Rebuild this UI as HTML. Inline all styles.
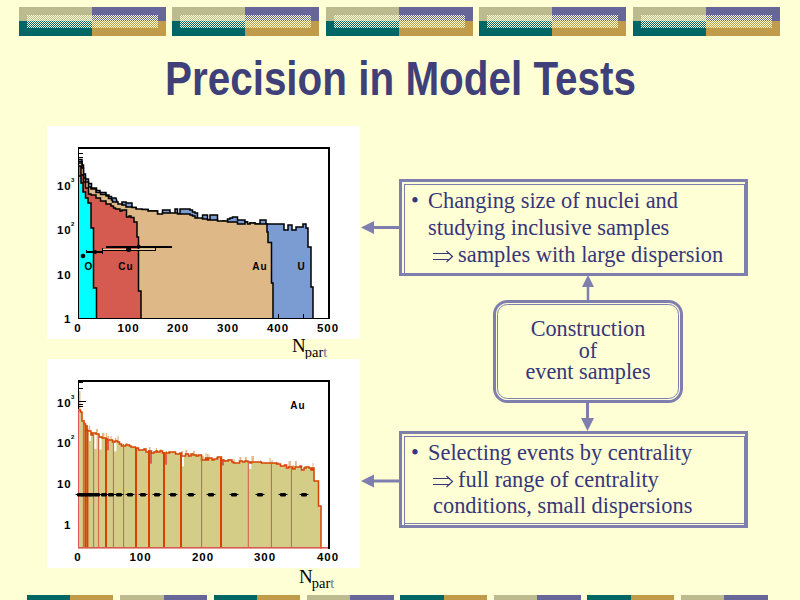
<!DOCTYPE html>
<html><head><meta charset="utf-8"><style>
html,body{margin:0;padding:0;}
body{width:800px;height:600px;background:#FFFFD5;position:relative;overflow:hidden;}
svg{position:absolute;left:0;top:0;}
.t{position:absolute;white-space:nowrap;font-family:"Liberation Serif",serif;font-size:22.4px;color:#36367A;line-height:27px;}
#title{position:absolute;left:165px;top:50px;transform:scaleX(0.825);white-space:nowrap;font-family:"Liberation Sans",sans-serif;font-weight:bold;font-size:49px;color:#3F3F7A;transform-origin:0 0;}
.np{position:absolute;white-space:nowrap;font-family:"Liberation Serif",serif;font-size:19px;color:#000;line-height:20px;}
.np sub{font-size:14.5px;vertical-align:-5px;line-height:0;margin-left:-1px;} .np i{font-style:normal;color:#6F6FA8;}
</style></head><body>
<svg width="800" height="600" viewBox="0 0 800 600" shape-rendering="crispEdges">
<defs><pattern id="chk" width="2" height="2" patternUnits="userSpaceOnUse"><rect x="0" y="0" width="1" height="1" fill="#FFFFD5"/><rect x="1" y="1" width="1" height="1" fill="#FFFFD5"/></pattern></defs>
<rect x="19" y="7" width="73" height="14" fill="#BBBB8F"/>
<rect x="19" y="21" width="73" height="15" fill="#006666"/>
<rect x="92" y="7" width="74" height="14" fill="#666699"/>
<rect x="92" y="21" width="74" height="15" fill="#C09C4A"/>
<rect x="27" y="15" width="131" height="13" fill="url(#chk)"/>
<rect x="172" y="7" width="73" height="14" fill="#BBBB8F"/>
<rect x="172" y="21" width="73" height="15" fill="#006666"/>
<rect x="245" y="7" width="74" height="14" fill="#666699"/>
<rect x="245" y="21" width="74" height="15" fill="#C09C4A"/>
<rect x="180" y="15" width="131" height="13" fill="url(#chk)"/>
<rect x="326" y="7" width="73" height="14" fill="#BBBB8F"/>
<rect x="326" y="21" width="73" height="15" fill="#006666"/>
<rect x="399" y="7" width="74" height="14" fill="#666699"/>
<rect x="399" y="21" width="74" height="15" fill="#C09C4A"/>
<rect x="334" y="15" width="131" height="13" fill="url(#chk)"/>
<rect x="479" y="7" width="73" height="14" fill="#BBBB8F"/>
<rect x="479" y="21" width="73" height="15" fill="#006666"/>
<rect x="552" y="7" width="74" height="14" fill="#666699"/>
<rect x="552" y="21" width="74" height="15" fill="#C09C4A"/>
<rect x="487" y="15" width="131" height="13" fill="url(#chk)"/>
<rect x="633" y="7" width="73" height="14" fill="#BBBB8F"/>
<rect x="633" y="21" width="73" height="15" fill="#006666"/>
<rect x="706" y="7" width="74" height="14" fill="#666699"/>
<rect x="706" y="21" width="74" height="15" fill="#C09C4A"/>
<rect x="641" y="15" width="131" height="13" fill="url(#chk)"/>
<rect x="27" y="595" width="43" height="5" fill="#006666"/>
<rect x="70" y="595" width="43" height="5" fill="#C09C4A"/>
<rect x="120" y="595" width="44" height="5" fill="#BBBB8F"/>
<rect x="164" y="595" width="43" height="5" fill="#666699"/>
<rect x="214" y="595" width="43" height="5" fill="#006666"/>
<rect x="257" y="595" width="43" height="5" fill="#C09C4A"/>
<rect x="307" y="595" width="43" height="5" fill="#BBBB8F"/>
<rect x="350" y="595" width="44" height="5" fill="#666699"/>
<rect x="400" y="595" width="44" height="5" fill="#006666"/>
<rect x="444" y="595" width="43" height="5" fill="#C09C4A"/>
<rect x="494" y="595" width="43" height="5" fill="#BBBB8F"/>
<rect x="537" y="595" width="44" height="5" fill="#666699"/>
<rect x="587" y="595" width="44" height="5" fill="#006666"/>
<rect x="631" y="595" width="43" height="5" fill="#C09C4A"/>
<rect x="681" y="595" width="43" height="5" fill="#BBBB8F"/>
<rect x="724" y="595" width="44" height="5" fill="#666699"/>
</svg>
<div id="title">Precision in Model Tests</div>
<svg width="800" height="600" viewBox="0 0 800 600">
<rect x="47" y="126" width="313" height="213" fill="#fff"/>
<path d="M79,318L79,159.5L82,159.5L82,165.0L83.5,165.0L83.5,174.0L85.5,174.0L85.5,179.0L88.5,179.0L88.5,183.5L91.5,183.5L91.5,188.0L96.5,188.0L96.5,190.5L100,190.5L100,192.5L106,192.5L106,195.0L109,195.0L109,196.5L111.5,196.5L111.5,198.0L116,198.0L118,205L122,205L122,202L126,202L126,203L132,203L132,207.5L136,207.5L136,210L142,210L142,209.5L148,209.5L148,211L150,211L150,211L157.5,211L157.5,215L162.5,215L162.5,210L170.0,210L170.0,214L175.0,214L175.0,209L177.5,209L177.5,214L180.0,214L180.0,209L185.0,209L185.0,209L190.0,209L190.0,210L192.5,210L192.5,212L195.0,212L195.0,213L197.5,213L197.5,219L202.5,219L202.5,215L207.5,215L207.5,220L210.0,220L210.0,215L217.5,215L217.5,222L222.5,222L222.5,221L225.0,221L225.0,223L227.5,223L227.5,219L230.0,219L230.0,218L232.5,218L232.5,217L237.5,217L237.5,220L245.0,220L245.0,222L247.5,222L247.5,226L250.0,226L250.0,223L255.0,223L255.0,224L260.0,224L260.0,220L262.5,220L262.5,220L266,220L266,224L284,224L284,230L288,230L288,225L292,225L292,230L296,230L296,227L303,227L303,224L306,224L306,228L308,228L308,247L311,247L311,287L313,287L313,318L313,318Z" fill="#7B9BD3"/>
<path d="M79,159.5L82,159.5L82,165.0L83.5,165.0L83.5,174.0L85.5,174.0L85.5,179.0L88.5,179.0L88.5,183.5L91.5,183.5L91.5,188.0L96.5,188.0L96.5,190.5L100,190.5L100,192.5L106,192.5L106,195.0L109,195.0L109,196.5L111.5,196.5L111.5,198.0L116,198.0L118,205L122,205L122,202L126,202L126,203L132,203L132,207.5L136,207.5L136,210L142,210L142,209.5L148,209.5L148,211L150,211L150,211L157.5,211L157.5,215L162.5,215L162.5,210L170.0,210L170.0,214L175.0,214L175.0,209L177.5,209L177.5,214L180.0,214L180.0,209L185.0,209L185.0,209L190.0,209L190.0,210L192.5,210L192.5,212L195.0,212L195.0,213L197.5,213L197.5,219L202.5,219L202.5,215L207.5,215L207.5,220L210.0,220L210.0,215L217.5,215L217.5,222L222.5,222L222.5,221L225.0,221L225.0,223L227.5,223L227.5,219L230.0,219L230.0,218L232.5,218L232.5,217L237.5,217L237.5,220L245.0,220L245.0,222L247.5,222L247.5,226L250.0,226L250.0,223L255.0,223L255.0,224L260.0,224L260.0,220L262.5,220L262.5,220L266,220L266,224L284,224L284,230L288,230L288,225L292,225L292,230L296,230L296,227L303,227L303,224L306,224L306,228L308,228L308,247L311,247L311,287L313,287L313,318" fill="none" stroke="#000" stroke-width="1.5" stroke-linejoin="miter" stroke-linecap="square"/>
<path d="M79,318L79,163L82,163L82,168L83.5,168L83.5,178L85.5,178L85.5,182L88.5,182L88.5,187L91,187L91,189L96,189L96,192.5L100.5,192.5L100.5,194.5L106,194.5L106,196L108.5,196L108.5,198.5L111.5,198.5L111.5,200L112.5,200L112.5,202L118,202L118,204L122,204L122,205L126,205L126,207L132,207L132,207.5L136,207.5L136,209L142,209L142,209.5L148,209.5L148,211L150,211L150,211L157.5,211L157.5,214L162.5,214L162.5,213L170.0,213L170.0,213L175.0,213L175.0,213L177.5,213L177.5,214L180.0,214L180.0,214L185.0,214L185.0,214L190.0,214L190.0,215L192.5,215L192.5,216L195.0,216L195.0,218L197.5,218L197.5,218L202.5,218L202.5,219L207.5,219L207.5,220L210.0,220L210.0,220L217.5,220L217.5,221L222.5,221L222.5,221L225.0,221L225.0,221L227.5,221L227.5,222L230.0,222L230.0,222L232.5,222L232.5,222L237.5,222L237.5,224L245.0,224L245.0,222L247.5,222L247.5,224L250.0,224L250.0,223L255.0,223L255.0,224L260.0,224L260.0,224L262.5,224L262.5,224L266,224L267,224L267,232L268,232L268,242.5L271.5,242.5L271.5,283L273,283L273,318L273,318Z" fill="#DEB887"/>
<path d="M79,163L82,163L82,168L83.5,168L83.5,178L85.5,178L85.5,182L88.5,182L88.5,187L91,187L91,189L96,189L96,192.5L100.5,192.5L100.5,194.5L106,194.5L106,196L108.5,196L108.5,198.5L111.5,198.5L111.5,200L112.5,200L112.5,202L118,202L118,204L122,204L122,205L126,205L126,207L132,207L132,207.5L136,207.5L136,209L142,209L142,209.5L148,209.5L148,211L150,211L150,211L157.5,211L157.5,214L162.5,214L162.5,213L170.0,213L170.0,213L175.0,213L175.0,213L177.5,213L177.5,214L180.0,214L180.0,214L185.0,214L185.0,214L190.0,214L190.0,215L192.5,215L192.5,216L195.0,216L195.0,218L197.5,218L197.5,218L202.5,218L202.5,219L207.5,219L207.5,220L210.0,220L210.0,220L217.5,220L217.5,221L222.5,221L222.5,221L225.0,221L225.0,221L227.5,221L227.5,222L230.0,222L230.0,222L232.5,222L232.5,222L237.5,222L237.5,224L245.0,224L245.0,222L247.5,222L247.5,224L250.0,224L250.0,223L255.0,223L255.0,224L260.0,224L260.0,224L262.5,224L262.5,224L266,224L267,224L267,232L268,232L268,242.5L271.5,242.5L271.5,283L273,283L273,318" fill="none" stroke="#000" stroke-width="1.5" stroke-linejoin="miter" stroke-linecap="square"/>
<path d="M79,318L79,166L81,166L81,175L83.5,175L83.5,182L85.5,182L85.5,188L88.5,188L88.5,194L91,194L91,195L96,195L96,198L100.5,198L100.5,201L106,201L106,204L111,204L111,206L113.5,206L113.5,208L115.5,208L115.5,209L120,209L120,211L122,211L122,210L126.5,210L126.5,217L129,217L129,216L131,216L131,217.5L134,217.5L134,222L137,222L137,237L138.5,237L138.5,291L141,291L141,318L141,318Z" fill="#D55A50"/>
<path d="M79,166L81,166L81,175L83.5,175L83.5,182L85.5,182L85.5,188L88.5,188L88.5,194L91,194L91,195L96,195L96,198L100.5,198L100.5,201L106,201L106,204L111,204L111,206L113.5,206L113.5,208L115.5,208L115.5,209L120,209L120,211L122,211L122,210L126.5,210L126.5,217L129,217L129,216L131,216L131,217.5L134,217.5L134,222L137,222L137,237L138.5,237L138.5,291L141,291L141,318" fill="none" stroke="#000" stroke-width="1.5" stroke-linejoin="miter" stroke-linecap="square"/>
<path d="M79,318L79,176L81,176L81,183L83,183L83,192L85.5,192L85.5,198L88,198L88,203L91,203L91,228L93.5,228L93.5,288L96.5,288L96.5,318L96.5,318Z" fill="#00FFFF"/>
<path d="M79,176L81,176L81,183L83,183L83,192L85.5,192L85.5,198L88,198L88,203L91,203L91,228L93.5,228L93.5,288L96.5,288L96.5,318" fill="none" stroke="#000" stroke-width="1.5" stroke-linejoin="miter" stroke-linecap="square"/>
<rect x="78" y="147" width="252" height="2" fill="#000"/>
<rect x="328" y="147" width="2" height="172" fill="#000"/>
<rect x="78" y="147" width="1" height="172" fill="#000"/>
<rect x="78" y="318" width="252" height="1" fill="#000"/>
<rect x="79" y="153" width="4" height="1" fill="#000"/>
<rect x="79" y="157" width="4" height="1" fill="#000"/>
<rect x="79" y="161" width="4" height="1" fill="#000"/>
<rect x="278" y="314" width="1" height="4" fill="#000"/>
<rect x="303" y="314" width="1" height="4" fill="#000"/>
<rect x="106" y="246" width="66" height="2" fill="#000"/>
<rect x="102" y="249" width="54" height="1" fill="#E8D2A8"/>
<rect x="102" y="250" width="54" height="1" fill="#000"/>
<rect x="102" y="248" width="1" height="3" fill="#000"/>
<rect x="155" y="248" width="1" height="3" fill="#000"/>
<rect x="86" y="251" width="17" height="2" fill="#000"/>
<rect x="86" y="250" width="1" height="3" fill="#000"/>
<rect x="102" y="250" width="1" height="4" fill="#000"/>
<circle cx="128.6" cy="249.5" r="2.5" fill="#000" shape-rendering="auto"/>
<circle cx="138.6" cy="246.5" r="2" fill="#000" shape-rendering="auto"/>
<circle cx="95" cy="252" r="2" fill="#000" shape-rendering="auto"/>
<circle cx="83" cy="256" r="2.3" fill="#000" shape-rendering="auto"/>
<text x="88.5" y="270" font-family="Liberation Sans" font-weight="bold" fill="#000" font-size="10" text-anchor="middle">O</text>
<text x="126" y="270" font-family="Liberation Sans" font-weight="bold" fill="#000" font-size="10" text-anchor="middle" letter-spacing="1">Cu</text>
<text x="260" y="270" font-family="Liberation Sans" font-weight="bold" fill="#000" font-size="10" text-anchor="middle" letter-spacing="1">Au</text>
<text x="301" y="270" font-family="Liberation Sans" font-weight="bold" fill="#000" font-size="10" text-anchor="middle">U</text>
<text transform="translate(78,332) scale(1.15,1)" x="0" y="0" font-family="Liberation Sans" font-weight="bold" fill="#000" font-size="10" text-anchor="middle" letter-spacing="0.8">0</text>
<text transform="translate(128.5,332) scale(1.15,1)" x="0" y="0" font-family="Liberation Sans" font-weight="bold" fill="#000" font-size="10" text-anchor="middle" letter-spacing="0.8">100</text>
<text transform="translate(178,332) scale(1.15,1)" x="0" y="0" font-family="Liberation Sans" font-weight="bold" fill="#000" font-size="10" text-anchor="middle" letter-spacing="0.8">200</text>
<text transform="translate(228,332) scale(1.15,1)" x="0" y="0" font-family="Liberation Sans" font-weight="bold" fill="#000" font-size="10" text-anchor="middle" letter-spacing="0.8">300</text>
<text transform="translate(278,332) scale(1.15,1)" x="0" y="0" font-family="Liberation Sans" font-weight="bold" fill="#000" font-size="10" text-anchor="middle" letter-spacing="0.8">400</text>
<text transform="translate(328,332) scale(1.15,1)" x="0" y="0" font-family="Liberation Sans" font-weight="bold" fill="#000" font-size="10" text-anchor="middle" letter-spacing="0.8">500</text>
<text transform="translate(57,190) scale(1.15,1)" x="0" y="0" font-family="Liberation Sans" font-weight="bold" fill="#000" font-size="10" text-anchor="start" letter-spacing="0.8">10</text>
<text x="71" y="182" font-family="Liberation Sans" font-weight="bold" fill="#000" font-size="6">3</text>
<text transform="translate(57,234) scale(1.15,1)" x="0" y="0" font-family="Liberation Sans" font-weight="bold" fill="#000" font-size="10" text-anchor="start" letter-spacing="0.8">10</text>
<text x="71" y="226" font-family="Liberation Sans" font-weight="bold" fill="#000" font-size="6">2</text>
<text transform="translate(57,279) scale(1.15,1)" x="0" y="0" font-family="Liberation Sans" font-weight="bold" fill="#000" font-size="10" text-anchor="start" letter-spacing="0.8">10</text>
<text transform="translate(64,323) scale(1.15,1)" x="0" y="0" font-family="Liberation Sans" font-weight="bold" fill="#000" font-size="10" text-anchor="start" letter-spacing="0.8">1</text>
</svg>
<div class="np" style="left:292px;top:336px">N<sub>par<i>t</i></sub></div>
<svg width="800" height="600" viewBox="0 0 800 600">
<rect x="47" y="359" width="313" height="209" fill="#fff"/>
<rect x="78" y="380" width="252" height="2" fill="#000"/>
<rect x="328" y="380" width="2" height="169" fill="#000"/>
<rect x="78" y="380" width="1" height="30" fill="#000"/>
<rect x="79" y="391" width="1.5" height="18" fill="#DEB887"/>
<rect x="84.0" y="420" width="1.0" height="5" fill="#DEB887"/>
<rect x="87.0" y="425" width="1.2" height="7" fill="#DEB887"/>
<rect x="89.0" y="426" width="1.2" height="6" fill="#DEB887"/>
<rect x="91.0" y="432" width="1.0" height="4" fill="#DEB887"/>
<rect x="96.0" y="429" width="1.8" height="6" fill="#DEB887"/>
<rect x="102.0" y="433" width="2.4" height="6" fill="#DEB887"/>
<rect x="106.0" y="433" width="1.0" height="7" fill="#DEB887"/>
<rect x="107.5" y="436" width="1.8" height="5" fill="#DEB887"/>
<rect x="110.5" y="436" width="1.2" height="5" fill="#DEB887"/>
<rect x="112.5" y="440" width="1.5" height="3" fill="#DEB887"/>
<rect x="115.0" y="438" width="1.5" height="4" fill="#DEB887"/>
<rect x="117.5" y="436" width="1.2" height="7" fill="#DEB887"/>
<rect x="121.5" y="444" width="2.4" height="3" fill="#DEB887"/>
<rect x="125.5" y="443" width="2.4" height="3" fill="#DEB887"/>
<rect x="144.0" y="448" width="1.2" height="2" fill="#DEB887"/>
<rect x="149.0" y="447" width="1.5" height="5" fill="#DEB887"/>
<rect x="156.0" y="448" width="1.0" height="4" fill="#DEB887"/>
<rect x="160.0" y="449" width="1.5" height="3" fill="#DEB887"/>
<rect x="165.5" y="451" width="1.5" height="3" fill="#DEB887"/>
<rect x="168.0" y="451" width="1.0" height="3" fill="#DEB887"/>
<rect x="175.5" y="453" width="1.5" height="2" fill="#DEB887"/>
<rect x="181.5" y="451" width="1.5" height="6" fill="#DEB887"/>
<rect x="185.5" y="450" width="1.8" height="5" fill="#DEB887"/>
<rect x="193.0" y="451" width="1.8" height="5" fill="#DEB887"/>
<rect x="196.0" y="454" width="1.5" height="3" fill="#DEB887"/>
<rect x="201.5" y="456" width="2.4" height="5" fill="#DEB887"/>
<rect x="205.5" y="453" width="1.0" height="6" fill="#DEB887"/>
<rect x="207.0" y="454" width="1.0" height="7" fill="#DEB887"/>
<rect x="208.5" y="454" width="1.0" height="5" fill="#DEB887"/>
<rect x="212.0" y="459" width="1.2" height="2" fill="#DEB887"/>
<rect x="216.0" y="457" width="1.0" height="3" fill="#DEB887"/>
<rect x="224.0" y="460" width="2.4" height="2" fill="#DEB887"/>
<rect x="228.0" y="459" width="2.4" height="2" fill="#DEB887"/>
<rect x="233.5" y="459" width="1.2" height="5" fill="#DEB887"/>
<rect x="239.5" y="457" width="1.8" height="5" fill="#DEB887"/>
<rect x="245.0" y="457" width="1.8" height="5" fill="#DEB887"/>
<rect x="251.5" y="456" width="2.4" height="7" fill="#DEB887"/>
<rect x="260.0" y="460" width="1.0" height="3" fill="#DEB887"/>
<rect x="269.5" y="458" width="1.2" height="6" fill="#DEB887"/>
<rect x="271.5" y="460" width="1.2" height="4" fill="#DEB887"/>
<rect x="276.5" y="462" width="2.4" height="3" fill="#DEB887"/>
<rect x="288.5" y="461" width="2.4" height="7" fill="#DEB887"/>
<rect x="292.5" y="465" width="1.5" height="5" fill="#DEB887"/>
<rect x="295.0" y="461" width="1.8" height="7" fill="#DEB887"/>
<rect x="304.0" y="466" width="1.2" height="3" fill="#DEB887"/>
<rect x="312.5" y="463" width="1.0" height="6" fill="#DEB887"/>
<path d="M79,548L79,410L80.5,410L80.5,412L82.0,412L82.0,421L84.0,421L84.0,424L85.5,424L85.5,426L87.0,426L87.0,431L89.0,431L89.0,431L91.0,431L91.0,435L92.5,435L92.5,433L94.0,433L94.0,433L96.0,433L96.0,434L99.0,434L99.0,437L102.0,437L102.0,438L106.0,438L106.0,439L107.5,439L107.5,440L110.5,440L110.5,440L112.5,440L112.5,442L115.0,442L115.0,441L117.5,441L117.5,442L119.5,442L119.5,444L121.5,444L121.5,446L125.5,446L125.5,445L129.5,445L129.5,446L131.0,446L131.0,447L133.5,447L133.5,447L135.5,447L135.5,448L138.5,448L138.5,450L140.0,450L140.0,450L144.0,450L144.0,449L146.0,449L146.0,452L149.0,452L149.0,451L151.5,451L151.5,453L154.0,453L154.0,452L156.0,452L156.0,451L157.5,451L157.5,452L160.0,452L160.0,451L162.5,451L162.5,453L165.5,453L165.5,453L168.0,453L168.0,453L169.5,453L169.5,452L171.5,452L171.5,452L175.5,452L175.5,454L178.0,454L178.0,454L180.0,454L180.0,453L181.5,453L181.5,456L184.0,456L184.0,456L185.5,456L185.5,454L188.5,454L188.5,456L191.0,456L191.0,454L193.0,454L193.0,455L196.0,455L196.0,456L198.5,456L198.5,455L201.5,455L201.5,460L205.5,460L205.5,458L207.0,458L207.0,460L208.5,460L208.5,458L210.0,458L210.0,458L212.0,458L212.0,460L214.0,460L214.0,459L216.0,459L216.0,459L217.5,459L217.5,457L221.5,457L221.5,460L224.0,460L224.0,461L228.0,461L228.0,460L232.0,460L232.0,462L233.5,462L233.5,463L235.5,463L235.5,463L239.5,463L239.5,461L242.5,461L242.5,462L245.0,462L245.0,461L248.0,461L248.0,462L250.0,462L250.0,463L251.5,463L251.5,462L255.5,462L255.5,462L258.5,462L258.5,462L260.0,462L260.0,462L261.5,462L261.5,463L265.5,463L265.5,463L269.5,463L269.5,463L271.5,463L271.5,463L273.5,463L273.5,463L276.5,463L276.5,464L280.5,464L280.5,466L284.5,466L284.5,465L286.5,465L286.5,468L288.5,468L288.5,467L292.5,467L292.5,469L295.0,469L295.0,467L298.0,467L298.0,467L300.0,467L300.0,466L301.5,466L301.5,470L304.0,470L304.0,468L306.0,468L306.0,467L309.0,467L309.0,468L311.0,468L311.0,470L312.5,470L312.5,468L314,468L314,470L314,481L318.5,481L318.5,506L321,506L321,548L321,548Z" fill="#D3CD88"/>
<rect x="88.8" y="430.9" width="2.2" height="10" fill="#fff"/>
<rect x="94.3" y="434.9" width="2.2" height="14" fill="#fff"/>
<rect x="99.4" y="437.5" width="2.2" height="12" fill="#fff"/>
<rect x="106.8" y="440.3" width="2.2" height="10" fill="#D86050"/>
<rect x="114.2" y="442.4" width="2.2" height="9" fill="#fff"/>
<rect x="149.8" y="451.7" width="2.2" height="12" fill="#D86050"/>
<rect x="164.8" y="453.7" width="2.2" height="11" fill="#D86050"/>
<rect x="181.8" y="455.3" width="2.2" height="11" fill="#fff"/>
<rect x="221.8" y="459.5" width="2.2" height="6" fill="#D86050"/>
<rect x="249.1" y="463.0" width="2.2" height="6" fill="#fff"/>
<path d="M79,410L80.5,410L80.5,412L82.0,412L82.0,421L84.0,421L84.0,424L85.5,424L85.5,426L87.0,426L87.0,431L89.0,431L89.0,431L91.0,431L91.0,435L92.5,435L92.5,433L94.0,433L94.0,433L96.0,433L96.0,434L99.0,434L99.0,437L102.0,437L102.0,438L106.0,438L106.0,439L107.5,439L107.5,440L110.5,440L110.5,440L112.5,440L112.5,442L115.0,442L115.0,441L117.5,441L117.5,442L119.5,442L119.5,444L121.5,444L121.5,446L125.5,446L125.5,445L129.5,445L129.5,446L131.0,446L131.0,447L133.5,447L133.5,447L135.5,447L135.5,448L138.5,448L138.5,450L140.0,450L140.0,450L144.0,450L144.0,449L146.0,449L146.0,452L149.0,452L149.0,451L151.5,451L151.5,453L154.0,453L154.0,452L156.0,452L156.0,451L157.5,451L157.5,452L160.0,452L160.0,451L162.5,451L162.5,453L165.5,453L165.5,453L168.0,453L168.0,453L169.5,453L169.5,452L171.5,452L171.5,452L175.5,452L175.5,454L178.0,454L178.0,454L180.0,454L180.0,453L181.5,453L181.5,456L184.0,456L184.0,456L185.5,456L185.5,454L188.5,454L188.5,456L191.0,456L191.0,454L193.0,454L193.0,455L196.0,455L196.0,456L198.5,456L198.5,455L201.5,455L201.5,460L205.5,460L205.5,458L207.0,458L207.0,460L208.5,460L208.5,458L210.0,458L210.0,458L212.0,458L212.0,460L214.0,460L214.0,459L216.0,459L216.0,459L217.5,459L217.5,457L221.5,457L221.5,460L224.0,460L224.0,461L228.0,461L228.0,460L232.0,460L232.0,462L233.5,462L233.5,463L235.5,463L235.5,463L239.5,463L239.5,461L242.5,461L242.5,462L245.0,462L245.0,461L248.0,461L248.0,462L250.0,462L250.0,463L251.5,463L251.5,462L255.5,462L255.5,462L258.5,462L258.5,462L260.0,462L260.0,462L261.5,462L261.5,463L265.5,463L265.5,463L269.5,463L269.5,463L271.5,463L271.5,463L273.5,463L273.5,463L276.5,463L276.5,464L280.5,464L280.5,466L284.5,466L284.5,465L286.5,465L286.5,468L288.5,468L288.5,467L292.5,467L292.5,469L295.0,469L295.0,467L298.0,467L298.0,467L300.0,467L300.0,466L301.5,466L301.5,470L304.0,470L304.0,468L306.0,468L306.0,467L309.0,467L309.0,468L311.0,468L311.0,470L312.5,470L312.5,468L314,468L314,470L314,481L318.5,481L318.5,506L321,506L321,548" fill="none" stroke="#D84200" stroke-width="1.5" stroke-linejoin="miter" stroke-linecap="square"/>
<rect x="78.0" y="409.0" width="1" height="139.0" fill="#D85A50"/>
<rect x="82.9" y="420.2" width="1" height="127.8" fill="#D85A50"/>
<rect x="93.1" y="433.5" width="1" height="114.5" fill="#D85A50"/>
<rect x="98.1" y="436.0" width="1" height="112.0" fill="#D85A50"/>
<rect x="112.9" y="440.9" width="1" height="107.1" fill="#D85A50"/>
<rect x="123.1" y="443.9" width="1" height="104.1" fill="#D85A50"/>
<rect x="201.1" y="456.5" width="1" height="91.5" fill="#D85A50"/>
<rect x="247.8" y="461.5" width="1" height="86.5" fill="#D85A50"/>
<rect x="270.9" y="463.6" width="1" height="84.4" fill="#D85A50"/>
<rect x="290.9" y="466.4" width="1" height="81.6" fill="#D85A50"/>
<rect x="84.4" y="425.1" width="2" height="122.9" fill="#D84200"/>
<rect x="86.4" y="428.9" width="2" height="119.1" fill="#D84200"/>
<rect x="105" y="438.8" width="2" height="109.2" fill="#D84200"/>
<rect x="135" y="447.6" width="2" height="100.4" fill="#D84200"/>
<rect x="148" y="450.2" width="2" height="97.8" fill="#D84200"/>
<rect x="163" y="452.2" width="2" height="95.8" fill="#D84200"/>
<rect x="180" y="453.8" width="2" height="94.2" fill="#D84200"/>
<rect x="220" y="458.0" width="2" height="90.0" fill="#D84200"/>
<rect x="78" y="547" width="250" height="1.6" fill="#D85A50"/>
<rect x="77" y="493" width="6" height="3.5" rx="1.2" fill="#000"/>
<rect x="75.5" y="494" width="9" height="1" fill="#000"/>
<rect x="81" y="493" width="6" height="3.5" rx="1.2" fill="#000"/>
<rect x="79.5" y="494" width="9" height="1" fill="#000"/>
<rect x="85" y="493" width="6" height="3.5" rx="1.2" fill="#000"/>
<rect x="83.5" y="494" width="9" height="1" fill="#000"/>
<rect x="89" y="493" width="6" height="3.5" rx="1.2" fill="#000"/>
<rect x="87.5" y="494" width="9" height="1" fill="#000"/>
<rect x="94" y="493" width="6" height="3.5" rx="1.2" fill="#000"/>
<rect x="92.5" y="494" width="9" height="1" fill="#000"/>
<rect x="101" y="493" width="6" height="3.5" rx="1.2" fill="#000"/>
<rect x="99.5" y="494" width="9" height="1" fill="#000"/>
<rect x="108" y="493" width="6" height="3.5" rx="1.2" fill="#000"/>
<rect x="106.5" y="494" width="9" height="1" fill="#000"/>
<rect x="116" y="493" width="6" height="3.5" rx="1.2" fill="#000"/>
<rect x="114.5" y="494" width="9" height="1" fill="#000"/>
<rect x="127" y="493" width="6" height="3.5" rx="1.2" fill="#000"/>
<rect x="125.5" y="494" width="9" height="1" fill="#000"/>
<rect x="140" y="493" width="6" height="3.5" rx="1.2" fill="#000"/>
<rect x="138.5" y="494" width="9" height="1" fill="#000"/>
<rect x="154" y="493" width="6" height="3.5" rx="1.2" fill="#000"/>
<rect x="152.5" y="494" width="9" height="1" fill="#000"/>
<rect x="170" y="493" width="6" height="3.5" rx="1.2" fill="#000"/>
<rect x="168.5" y="494" width="9" height="1" fill="#000"/>
<rect x="188" y="493" width="6" height="3.5" rx="1.2" fill="#000"/>
<rect x="186.5" y="494" width="9" height="1" fill="#000"/>
<rect x="208" y="493" width="6" height="3.5" rx="1.2" fill="#000"/>
<rect x="206.5" y="494" width="9" height="1" fill="#000"/>
<rect x="231" y="493" width="6" height="3.5" rx="1.2" fill="#000"/>
<rect x="229.5" y="494" width="9" height="1" fill="#000"/>
<rect x="257" y="493" width="6" height="3.5" rx="1.2" fill="#000"/>
<rect x="255.5" y="494" width="9" height="1" fill="#000"/>
<rect x="280" y="493" width="6" height="3.5" rx="1.2" fill="#000"/>
<rect x="278.5" y="494" width="9" height="1" fill="#000"/>
<rect x="301" y="493" width="6" height="3.5" rx="1.2" fill="#000"/>
<rect x="299.5" y="494" width="9" height="1" fill="#000"/>
<rect x="79" y="382" width="4" height="1" fill="#000"/>
<rect x="79" y="388" width="4" height="1" fill="#000"/>
<rect x="79" y="401" width="7" height="1" fill="#000"/>
<rect x="79" y="404" width="4" height="1" fill="#000"/>
<rect x="79" y="406" width="4" height="1" fill="#000"/>
<text x="298" y="409" font-family="Liberation Sans" font-weight="bold" fill="#000" font-size="10" text-anchor="middle" letter-spacing="1">Au</text>
<text transform="translate(78,561) scale(1.15,1)" x="0" y="0" font-family="Liberation Sans" font-weight="bold" fill="#000" font-size="10" text-anchor="middle" letter-spacing="0.8">0</text>
<text transform="translate(140.5,561) scale(1.15,1)" x="0" y="0" font-family="Liberation Sans" font-weight="bold" fill="#000" font-size="10" text-anchor="middle" letter-spacing="0.8">100</text>
<text transform="translate(203,561) scale(1.15,1)" x="0" y="0" font-family="Liberation Sans" font-weight="bold" fill="#000" font-size="10" text-anchor="middle" letter-spacing="0.8">200</text>
<text transform="translate(265,561) scale(1.15,1)" x="0" y="0" font-family="Liberation Sans" font-weight="bold" fill="#000" font-size="10" text-anchor="middle" letter-spacing="0.8">300</text>
<text transform="translate(328,561) scale(1.15,1)" x="0" y="0" font-family="Liberation Sans" font-weight="bold" fill="#000" font-size="10" text-anchor="middle" letter-spacing="0.8">400</text>
<text transform="translate(57,407) scale(1.15,1)" x="0" y="0" font-family="Liberation Sans" font-weight="bold" fill="#000" font-size="10" text-anchor="start" letter-spacing="0.8">10</text>
<text x="71" y="399" font-family="Liberation Sans" font-weight="bold" fill="#000" font-size="6">3</text>
<text transform="translate(57,447) scale(1.15,1)" x="0" y="0" font-family="Liberation Sans" font-weight="bold" fill="#000" font-size="10" text-anchor="start" letter-spacing="0.8">10</text>
<text x="71" y="439" font-family="Liberation Sans" font-weight="bold" fill="#000" font-size="6">2</text>
<text transform="translate(57,488) scale(1.15,1)" x="0" y="0" font-family="Liberation Sans" font-weight="bold" fill="#000" font-size="10" text-anchor="start" letter-spacing="0.8">10</text>
<text transform="translate(64,529) scale(1.15,1)" x="0" y="0" font-family="Liberation Sans" font-weight="bold" fill="#000" font-size="10" text-anchor="start" letter-spacing="0.8">1</text>
</svg>
<div class="np" style="left:299px;top:567px">N<sub>par<i>t</i></sub></div>
<svg width="800" height="600" viewBox="0 0 800 600">
<rect x="399" y="179" width="349" height="3" fill="#7F7FAF"/>
<rect x="399" y="273" width="349" height="3" fill="#7F7FAF"/>
<rect x="399" y="179" width="3" height="97" fill="#7F7FAF"/>
<rect x="745" y="179" width="3" height="97" fill="#7F7FAF"/>
<rect x="404" y="184" width="341" height="1" fill="#7F7FAF"/>
<rect x="404" y="184" width="1" height="89" fill="#7F7FAF"/>
<rect x="744" y="184" width="1" height="89" fill="#7F7FAF"/>
<rect x="399" y="431" width="349" height="3" fill="#7F7FAF"/>
<rect x="399" y="525" width="349" height="3" fill="#7F7FAF"/>
<rect x="399" y="431" width="3" height="97" fill="#7F7FAF"/>
<rect x="745" y="431" width="3" height="97" fill="#7F7FAF"/>
<rect x="404" y="436" width="341" height="1" fill="#7F7FAF"/>
<rect x="404" y="436" width="1" height="89" fill="#7F7FAF"/>
<rect x="744" y="436" width="1" height="89" fill="#7F7FAF"/>
<rect x="404" y="523" width="341" height="1" fill="#7F7FAF"/>
<rect x="494.5" y="301.5" width="187" height="100" rx="13" ry="13" fill="none" stroke="#7F7FAF" stroke-width="3"/>
<rect x="497.5" y="304.5" width="181" height="94" rx="10" ry="10" fill="none" stroke="#7F7FAF" stroke-width="1"/>
<line x1="373" y1="227.5" x2="400" y2="227.5" stroke="#7F7FAF" stroke-width="3"/>
<path d="M361,227.5 L374,221 L374,234 Z" fill="#7F7FAF"/>
<line x1="373" y1="481" x2="400" y2="481" stroke="#7F7FAF" stroke-width="3"/>
<path d="M361,481 L374,474.5 L374,487.5 Z" fill="#7F7FAF"/>
<line x1="588" y1="286" x2="588" y2="300" stroke="#7F7FAF" stroke-width="2.5"/>
<path d="M588,275 L582,287 L594,287 Z" fill="#7F7FAF"/>
<line x1="587.5" y1="402" x2="587.5" y2="419" stroke="#7F7FAF" stroke-width="3"/>
<path d="M587.5,431 L581,418 L594,418 Z" fill="#7F7FAF"/>
<path d="M433,253.5 L450,253.5 M433,259.5 L450,259.5 M446.5,251.0 L452.5,256.5 L446.5,262.0" fill="none" stroke="#36367A" stroke-width="1.2"/>
<path d="M433,478.5 L450,478.5 M433,484.5 L450,484.5 M446.5,476.0 L452.5,481.5 L446.5,487.0" fill="none" stroke="#36367A" stroke-width="1.2"/>
</svg>
<div class="t" style="left:411px;top:187px">&#8226;</div>
<div class="t" style="left:428px;top:187px">Changing size of nuclei and</div>
<div class="t" style="left:428px;top:214px">studying inclusive samples</div>
<div class="t" style="left:458px;top:241px">samples with large dispersion</div>
<div class="t" style="left:493px;top:318px;width:190px;text-align:center;line-height:21.5px;font-size:22.2px">Construction<br>of<br>event samples</div>
<div class="t" style="left:411px;top:439px">&#8226;</div>
<div class="t" style="left:428px;top:439px">Selecting events by centrality</div>
<div class="t" style="left:458px;top:466px">full range of centrality</div>
<div class="t" style="left:433px;top:492px">conditions, small dispersions</div>
</body></html>
